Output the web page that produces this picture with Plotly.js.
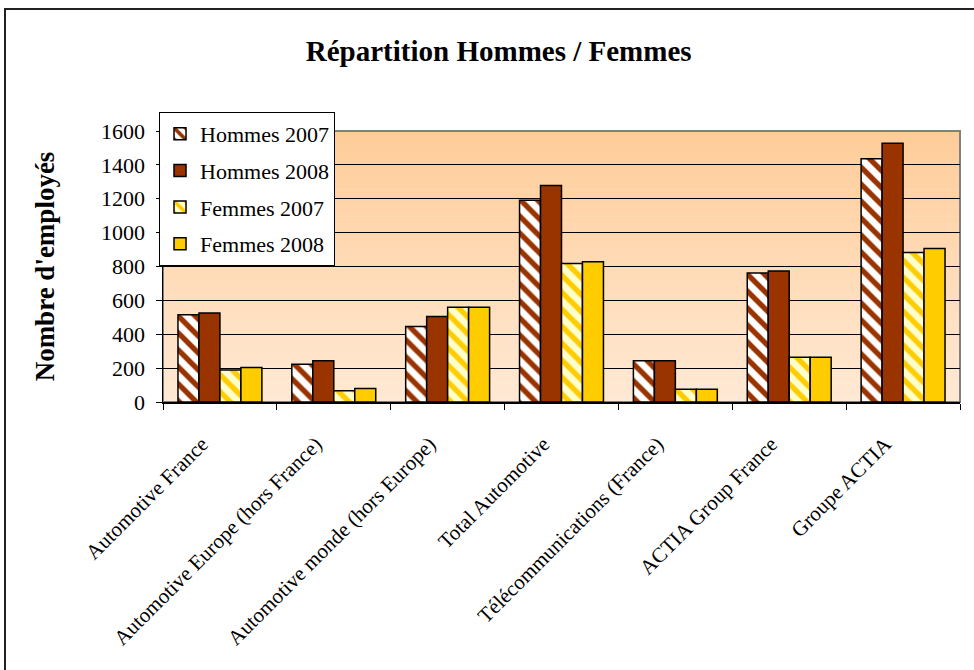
<!DOCTYPE html>
<html>
<head>
<meta charset="utf-8">
<script src="https://cdn.plot.ly/plotly-3.0.1.min.js"></script>
<style>
  html, body { margin: 0; padding: 0; background: #ffffff; overflow: hidden; width: 974px; height: 670px; }
  #wrap { position: relative; width: 974px; height: 670px; overflow: hidden; }
  #chart { width: 974px; height: 670px; }
  #frame { position: absolute; left: 4px; top: 8px; width: 1100px; height: 800px;
           border-top: 2px solid #222222; border-left: 2px solid #222222; pointer-events: none; }
</style>
</head>
<body>
<div id="wrap">
  <div id="chart"></div>
  <div id="frame"></div>
</div>
<script>
// ---- Data ----
const categories = [
  "Automotive France",
  "Automotive Europe (hors France)",
  "Automotive monde (hors Europe)",
  "Total Automotive",
  "Télécommunications (France)",
  "ACTIA Group France",
  "Groupe ACTIA"
];
const hommes2007 = [515, 223, 446, 1191, 244, 761, 1436];
const hommes2008 = [525, 244, 505, 1278, 244, 773, 1527];
const femmes2007 = [189, 67, 560, 817, 75, 264, 883];
const femmes2008 = [203, 79, 560, 828, 75, 264, 907];
const seriesNames = ["Hommes 2007", "Hommes 2008", "Femmes 2007", "Femmes 2008"];
const yTicks = [0, 200, 400, 600, 800, 1000, 1200, 1400, 1600];

// ---- Styling ----
const FONT = "'Liberation Serif', 'Times New Roman', serif";
const outline = { color: "#000000", width: 1.5 };

const traces = [
  {
    type: "bar", name: seriesNames[0], x: categories, y: hommes2007,
    legendgroup: "g1",
    marker: { color: "#ffffff", line: outline,
      pattern: { shape: "\\", fgcolor: "#993300", bgcolor: "#ffffff", fgopacity: 1, size: 12, solidity: 0.45, fillmode: "overlay" } }
  },
  {
    type: "bar", name: seriesNames[1], x: categories, y: hommes2008,
    legendgroup: "g2",
    marker: { color: "#993300", line: outline }
  },
  {
    type: "bar", name: seriesNames[2], x: categories, y: femmes2007,
    legendgroup: "g3",
    marker: { color: "#ffffcc", line: outline,
      pattern: { shape: "\\", fgcolor: "#ffcc00", bgcolor: "#ffffcc", fgopacity: 1, size: 12, solidity: 0.45, fillmode: "overlay" } }
  },
  {
    type: "bar", name: seriesNames[3], x: categories, y: femmes2008,
    legendgroup: "g4",
    marker: { color: "#ffcc00", line: outline }
  }
];
traces.forEach(t => { t.hoverinfo = "none"; });

// Plot area gradient (styling only)
const shapes = [];
const N = 60;
const gradTop = [255, 204, 153], gradBot = [255, 233, 212];
for (let i = 0; i < N; i++) {
  const f = (i + 0.5) / N;
  const c = gradBot.map((b, k) => Math.round(b + (gradTop[k] - b) * f));
  shapes.push({
    type: "rect", xref: "paper", yref: "paper", layer: "below",
    x0: 0, x1: 1, y0: i / N, y1: (i + 1) / N + 0.002,
    fillcolor: `rgb(${c[0]},${c[1]},${c[2]})`, line: { width: 0 }
  });
}
// plot-area border (gray)
shapes.push({
  type: "rect", xref: "paper", yref: "paper", layer: "below",
  x0: 0, x1: 1, y0: 0, y1: 1, line: { color: "#808080", width: 2 }
});

const layout = {
  width: 974, height: 670,
  margin: { l: 163, r: 14, t: 131, b: 268 },
  paper_bgcolor: "#ffffff",
  plot_bgcolor: "rgba(0,0,0,0)",
  font: { family: FONT, color: "#000000", size: 20 },
  title: {
    text: "<b>Répartition Hommes / Femmes</b>",
    font: { family: FONT, size: 29, color: "#000000" },
    x: 0.512, xref: "container", xanchor: "center",
    y: 0.924, yref: "container", yanchor: "middle"
  },
  barmode: "group",
  bargap: 0.263,
  bargroupgap: 0,
  showlegend: true,
  legend: {
    x: -0.005, y: 1.070, xanchor: "left", yanchor: "top",
    bgcolor: "#ffffff", bordercolor: "#000000", borderwidth: 1,
    font: { family: FONT, size: 22, color: "#000000" },
    traceorder: "grouped", tracegroupgap: 5
  },
  xaxis: {
    type: "category",
    tickangle: -45,
    ticks: "outside", ticklen: 6, tickcolor: "#000000", tickwidth: 1,
    tickson: "boundaries",
    ticklabelstandoff: 20,
    ticklabelshift: -18,
    showline: true, linecolor: "#000000", linewidth: 1.5,
    showgrid: false, zeroline: false,
    tickfont: { family: FONT, size: 21, color: "#000000" },
    automargin: false
  },
  yaxis: {
    range: [0, 1600],
    tickvals: yTicks,
    ticktext: yTicks.map(String),
    ticks: "outside", ticklen: 6, tickcolor: "#000000", tickwidth: 1,
    ticklabelstandoff: 6,
    showline: true, linecolor: "#000000", linewidth: 1.5,
    showgrid: true, gridcolor: "#000000", gridwidth: 1,
    zeroline: false,
    tickfont: { family: FONT, size: 22, color: "#000000" },
    title: { text: "<b>Nombre d'employés</b>", font: { family: FONT, size: 27, color: "#000000" }, standoff: 38 },
    automargin: false
  },
  shapes: shapes
};

Plotly.newPlot("chart", traces, layout, { displayModeBar: false, staticPlot: true });
</script>
</body>
</html>
